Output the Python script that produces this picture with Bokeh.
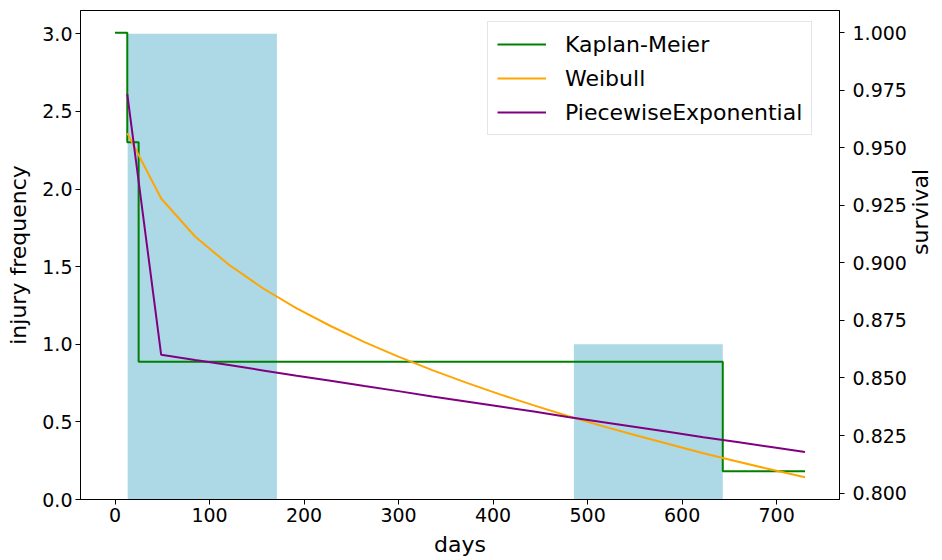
import math
from bokeh.plotting import figure
from bokeh.models import Range1d, LinearAxis, FixedTicker, NumeralTickFormatter, Legend
from bokeh.embed import file_html
from bokeh.resources import INLINE

# ---- data ----
bar_left = [13.4, 485.5]
bar_right = [171.3, 643.0]
bar_freq = [3.0, 1.0]

km_days = [0, 13, 25, 643, 730]
km_surv = [1.0, 0.9524, 0.8571, 0.8095, 0.8095]

grid_days = [13.0, 48.85, 84.7, 120.55, 156.4, 192.25, 228.1, 263.95, 299.8, 335.65, 371.5,
             407.35, 443.2, 479.05, 514.9, 550.75, 586.6, 622.45, 658.3, 694.15, 730.0]
weibull = [0.9564, 0.9280, 0.9115, 0.8992, 0.8890, 0.8803, 0.8726, 0.8656, 0.8593, 0.8534, 0.8480,
           0.8429, 0.8381, 0.8335, 0.8292, 0.8251, 0.8212, 0.8173, 0.8137, 0.8102, 0.8069]
piecewise = [0.9734, 0.8601, 0.8578, 0.8556, 0.8533, 0.8510, 0.8488, 0.8465, 0.8443, 0.8420, 0.8398,
             0.8376, 0.8354, 0.8331, 0.8309, 0.8287, 0.8265, 0.8243, 0.8222, 0.8200, 0.8178]

x_ticks = [0, 100, 200, 300, 400, 500, 600, 700]
freq_ticks = [0.0, 0.5, 1.0, 1.5, 2.0, 2.5, 3.0]
surv_ticks = [0.800, 0.825, 0.850, 0.875, 0.900, 0.925, 0.950, 0.975, 1.000]

FONT = "DejaVu Sans"

p = figure(frame_width=759, frame_height=489, output_backend="svg", toolbar_location=None,
           x_range=Range1d(-36.5, 766.5), y_range=Range1d(0, 3.15),
           min_border_left=80, min_border_right=98, min_border_top=10, min_border_bottom=58,
           x_axis_label="days", y_axis_label="injury frequency")
p.extra_y_ranges = {"surv": Range1d(0.7972, 1.0097)}
p.xgrid.visible = False
p.ygrid.visible = False
p.outline_line_color = "black"
p.outline_line_width = 1
p.outline_line_alpha = 1.0

p.quad(left=bar_left, right=bar_right, bottom=0, top=bar_freq,
       fill_color="#ADD8E6", line_color=None)

r_km = p.step(km_days, km_surv, mode="after", line_color="green", line_width=2, y_range_name="surv")
r_w = p.line(grid_days, weibull, line_color="orange", line_width=2, y_range_name="surv")
r_pe = p.line(grid_days, piecewise, line_color="purple", line_width=2, y_range_name="surv")

right_axis = LinearAxis(y_range_name="surv", axis_label="survival")
p.add_layout(right_axis, "right")

p.xaxis.ticker = FixedTicker(ticks=x_ticks)
p.yaxis[0].ticker = FixedTicker(ticks=freq_ticks)
p.yaxis[0].formatter = NumeralTickFormatter(format="0.0")
right_axis.ticker = FixedTicker(ticks=surv_ticks)
right_axis.formatter = NumeralTickFormatter(format="0.000")

for ax in p.axis:
    ax.major_label_text_font = FONT
    ax.major_label_text_font_size = "19px"
    ax.major_label_text_color = "black"
    ax.axis_label_text_font = FONT
    ax.axis_label_text_font_size = "22px"
    ax.axis_label_text_font_style = "normal"
    ax.axis_label_text_color = "black"
    ax.axis_line_color = "black"
    ax.major_tick_line_color = "black"
    ax.major_tick_out = 5
    ax.major_tick_in = 0
    ax.minor_tick_line_color = None
    ax.major_label_standoff = 3

p.yaxis[0].axis_label_standoff = 8
p.xaxis.axis_label_standoff = 7
right_axis.major_label_standoff = 8
right_axis.axis_label_standoff = 11
try:
    right_axis.axis_label_orientation = math.pi / 2
except Exception:
    pass

legend = Legend(items=[("Kaplan-Meier", [r_km]), ("Weibull", [r_w]), ("PiecewiseExponential", [r_pe])],
                location=(407, 364))
legend.label_text_font = FONT
legend.label_text_font_size = "22px"
legend.label_text_color = "black"
legend.glyph_width = 49
legend.glyph_height = 26
legend.label_height = 26
legend.label_standoff = 19
legend.spacing = 8
legend.padding = 9
legend.margin = 0
legend.border_line_color = "#cccccc"
legend.border_line_width = 1
legend.background_fill_alpha = 0.8
p.add_layout(legend)

open("out.html", "w").write(file_html(p, INLINE))
